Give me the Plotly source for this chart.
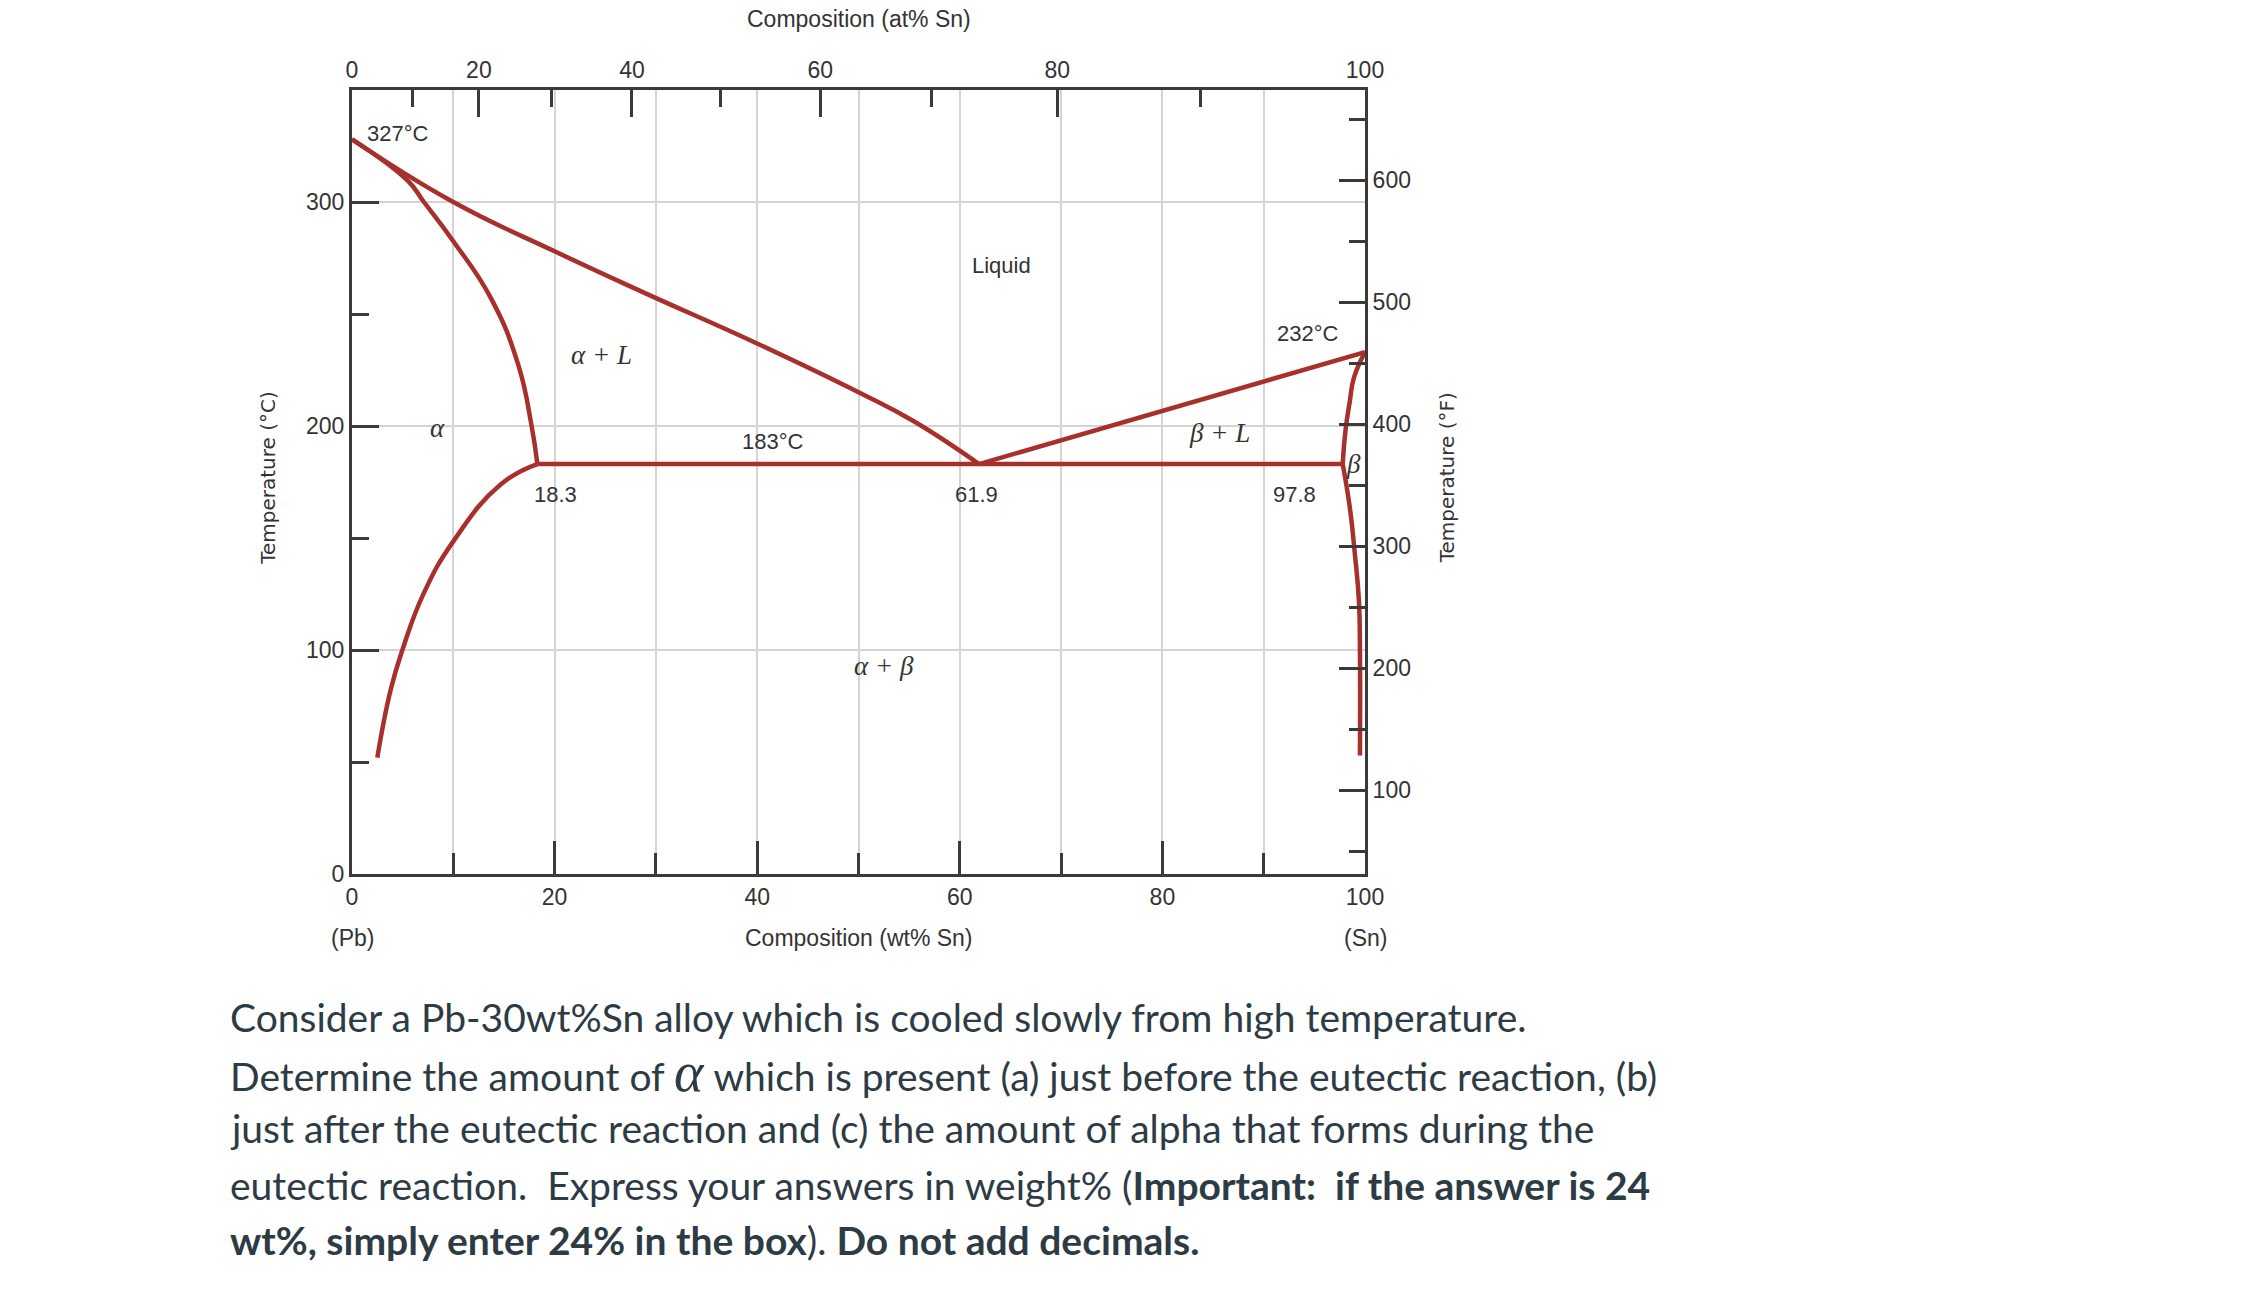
import plotly.graph_objects as go

# ---------------- data (wt% Sn, °C) ----------------
liq_left_wt = [0, 10, 20, 28.6, 40.2, 50.3, 55.5, 61.9]
liq_left_T = [328, 300, 278, 260, 236.4, 214.4, 202, 183]

sol_left_wt = [0, 5.5, 7.1, 10, 13.7, 16.4, 17.7, 18.3]
sol_left_T = [328, 309.5, 300, 282.5, 257.2, 227.5, 200.8, 183]

solv_left_wt = [18.3, 14.7, 10, 7.1, 5.0, 3.8, 2.5]
solv_left_T = [183, 174, 148.5, 125.5, 100.4, 81.9, 52]

eut_wt = [18.3, 97.8]
eut_T = [183, 183]

liq_right_wt = [61.9, 100]
liq_right_T = [183, 233]

sol_right_wt = [100, 98.9, 98.5, 98.1, 97.8]
sol_right_T = [233, 221.5, 211, 199, 183]

solv_right_wt = [97.8, 98.5, 99.0, 99.4, 99.5, 99.5]
solv_right_T = [183, 163.6, 142.8, 122, 99.7, 52.9]

# region / point labels
lab_text = ["327°C", "183°C", "Liquid", "18.3", "61.9", "97.8", "232°C"]
lab_x = [4.5, 41.6, 64.1, 20.1, 61.6, 93.0, 94.4]
lab_y = [330.5, 192.9, 271.8, 169.3, 169.3, 169.3, 241.2]

phase_text = ["α + L", "α", "β + L", "β", "α + β"]
phase_x = [24.6, 8.4, 85.6, 98.9, 52.5]
phase_y = [231.6, 199, 196.9, 183, 93]

# top axis (at% Sn) tick values
at_major = [0, 20, 40, 60, 80, 100]
at_minor = [10, 30, 50, 70, 90]
M_SN, M_PB = 118.71, 207.2

# right axis (°F) range as printed
degF_range = [31.5, 674]

para_lines = [
    "Consider a Pb-30wt%Sn alloy which is cooled slowly from high temperature.",
    "Determine the amount of <span style=\"font-family:'Liberation Serif';font-style:italic;font-size:56px\">α</span> which is present (a) just before the eutectic reaction, (b)",
    "just after the eutectic reaction and (c) the amount of alpha that forms during the",
    "eutectic reaction.\u00a0 Express your answers in weight% (<b>Important:\u00a0 if the answer is 24</b>",
    "<b>wt%, simply enter 24% in the box</b>). <b>Do not add decimals.</b>",
]


def at_to_wt(a):
    if a >= 100:
        return 100.0
    r = a / (100 - a)  # n_Sn / n_Pb
    return 100 * r * M_SN / (r * M_SN + M_PB)


RED = "#a8302c"
AX = "#3a3a3a"
GRID = "#d4d4d4"
TXT = "#333333"
TICKFONT = dict(family="Liberation Sans, Arial, sans-serif", size=23, color=TXT)

fig = go.Figure()

curves = [
    (liq_left_wt, liq_left_T, "spline"),
    (sol_left_wt, sol_left_T, "spline"),
    (solv_left_wt, solv_left_T, "spline"),
    (eut_wt, eut_T, "linear"),
    (liq_right_wt, liq_right_T, "linear"),
    (sol_right_wt, sol_right_T, "spline"),
    (solv_right_wt, solv_right_T, "spline"),
]
for xs, ys, shape in curves:
    fig.add_trace(go.Scatter(
        x=xs, y=ys, mode="lines",
        line=dict(color=RED, width=4.5, shape=shape, smoothing=1.3),
        hoverinfo="skip", showlegend=False,
    ))

# dummy trace to activate secondary axes
fig.add_trace(go.Scatter(x=[None], y=[None], xaxis="x2", yaxis="y2",
                         mode="lines", showlegend=False, hoverinfo="skip"))

for t, x, y in zip(lab_text, lab_x, lab_y):
    fig.add_annotation(x=x, y=y, text=t, showarrow=False,
                       font=dict(family="Liberation Sans, Arial, sans-serif", size=22, color=TXT))
for t, x, y in zip(phase_text, phase_x, phase_y):
    fig.add_annotation(x=x, y=y, text="<i>" + t + "</i>", showarrow=False,
                       font=dict(family="Liberation Serif, Times New Roman, serif", size=27, color=TXT))

# axis titles & end labels
title_font = dict(family="Liberation Sans, Arial, sans-serif", size=23, color=TXT)
fig.add_annotation(x=50, y=1.110, xref="x", yref="paper", text="Composition (at% Sn)",
                   showarrow=False, font=title_font)
fig.add_annotation(x=50, y=-0.101, xref="x", yref="paper", text="Composition (wt% Sn)",
                   showarrow=False, font=title_font)
fig.add_annotation(x=0, y=-0.101, xref="x", yref="paper", text="(Pb)",
                   showarrow=False, font=title_font)
fig.add_annotation(x=100, y=-0.101, xref="x", yref="paper", text="(Sn)",
                   showarrow=False, font=title_font)
side_font = dict(family="DejaVu Sans, Verdana, sans-serif", size=20, color=TXT)
fig.add_annotation(x=-0.097, y=0.505, xref="paper", yref="paper", text="Temperature (°C)",
                   textangle=-90, showarrow=False, font=side_font)
fig.add_annotation(x=1.095, y=0.505, xref="paper", yref="paper", text="Temperature (°F)",
                   textangle=-90, showarrow=False, font=side_font)

# question paragraph
para_y = [-0.1823, -0.2525, -0.324, -0.3966, -0.4668]
for line, y in zip(para_lines, para_y):
    fig.add_annotation(x=-0.1225, y=y, xref="paper", yref="paper", text=line,
                       xanchor="left", yanchor="middle", align="left", showarrow=False,
                       font=dict(family="Lato, sans-serif", size=39, color="#2d3b45"))

fig.update_layout(
    width=2262, height=1296,
    margin=dict(l=352, r=897, t=90, b=422, pad=0),
    paper_bgcolor="white", plot_bgcolor="white",
    showlegend=False,
    xaxis=dict(
        range=[0, 100], tickmode="linear", tick0=0, dtick=20,
        ticks="inside", ticklen=33, tickwidth=3, tickcolor=AX,
        showgrid=True, gridcolor=GRID, gridwidth=2,
        minor=dict(dtick=10, tick0=0, ticks="inside", ticklen=21, tickwidth=3,
                   tickcolor=AX, showgrid=True, gridcolor=GRID, gridwidth=2),
        showline=True, linecolor=AX, linewidth=3, zeroline=False,
        tickfont=TICKFONT, fixedrange=True,
    ),
    xaxis2=dict(
        range=[0, 100], overlaying="x", side="top", anchor="y",
        tickmode="array", tickvals=[at_to_wt(a) for a in at_major],
        ticktext=[str(a) for a in at_major],
        ticks="inside", ticklen=27, tickwidth=3, tickcolor=AX,
        minor=dict(tickmode="array", tickvals=[at_to_wt(a) for a in at_minor],
                   ticks="inside", ticklen=17, tickwidth=3, tickcolor=AX, showgrid=False),
        showgrid=False, showline=True, linecolor=AX, linewidth=3, zeroline=False,
        tickfont=TICKFONT, fixedrange=True,
    ),
    yaxis=dict(
        range=[0, 350], tickmode="linear", tick0=0, dtick=100,
        ticks="inside", ticklen=27, tickwidth=3, tickcolor=AX,
        showgrid=True, gridcolor=GRID, gridwidth=2,
        minor=dict(dtick=50, tick0=0, ticks="inside", ticklen=17, tickwidth=3,
                   tickcolor=AX, showgrid=False),
        showline=True, linecolor=AX, linewidth=3, zeroline=False,
        tickfont=TICKFONT, fixedrange=True,
    ),
    yaxis2=dict(
        range=degF_range, overlaying="y", side="right", anchor="x",
        tickmode="linear", tick0=0, dtick=100,
        ticks="inside", ticklen=26, tickwidth=3, tickcolor=AX,
        minor=dict(dtick=50, tick0=0, ticks="inside", ticklen=16, tickwidth=3,
                   tickcolor=AX, showgrid=False),
        showgrid=False, showline=True, linecolor=AX, linewidth=3, zeroline=False,
        tickfont=TICKFONT, fixedrange=True,
    ),
)

fig.write_html("out.html", config={"displayModeBar": False},
               post_script="document.body.style.margin='0px';")
